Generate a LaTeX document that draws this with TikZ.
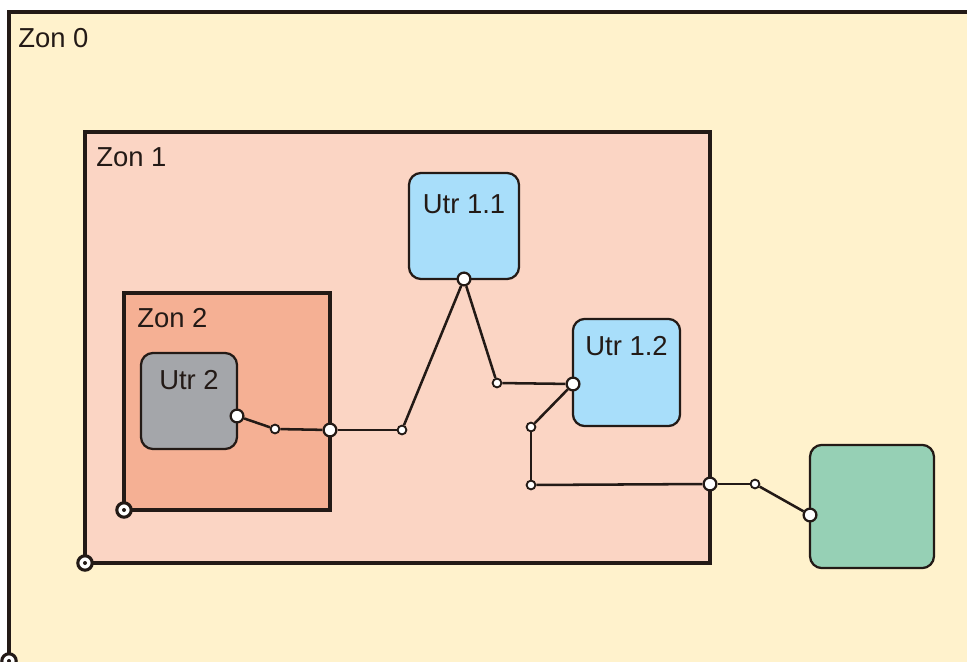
\documentclass[tikz,border=0pt]{standalone}
\usepackage{fontspec}
\setmainfont{Liberation Sans}
\usetikzlibrary{positioning}
\definecolor{zcol0}{RGB}{255,242,204}
\definecolor{zcol1}{RGB}{251,213,196}
\definecolor{zcol2}{RGB}{245,176,148}
\definecolor{ublue}{RGB}{168,222,250}
\definecolor{ugray}{RGB}{164,166,170}
\definecolor{ugreen}{RGB}{150,208,181}
\definecolor{ink}{RGB}{35,26,22}

\begin{document}
\begin{tikzpicture}[x=0.025cm,y=-0.025cm,
  font=\fontsize{19.5}{23}\selectfont,
  zone/.style={draw=ink,line width=2.2pt},
  zlabel/.style={anchor=base west,inner sep=0pt,text=ink},
  utr/.style={draw=ink,line width=1.6pt,rounded corners=0.3cm,inner sep=0pt},
  wire/.style={draw=ink,line width=1.8pt},
  term/.style={circle,draw=ink,fill=white,line width=1.6pt,minimum size=0.32cm,inner sep=0pt},
  sw/.style={circle,draw=ink,fill=white,line width=1.3pt,minimum size=0.22cm,inner sep=0pt},
  gnd/.style={circle,draw=ink,fill=white,line width=2.2pt,minimum size=0.36cm,inner sep=0pt,
              path picture={\fill[ink] (path picture bounding box.center) circle (0.05cm);}}
]
\useasboundingbox (0,0) rectangle (967,662);

\begin{scope}
  \clip (0,0) rectangle (967,662);
  \draw[zone,fill=zcol0] (9,12) rectangle (1000,664);
  \node[gnd] (g0) at (9,661) {};
\end{scope}
\node[zlabel] (z0) at (18,48) {Zon 0};

\draw[zone,fill=zcol1] (85,132) rectangle (710,563);
\node[zlabel] (z1) at (96,167) {Zon 1};
\draw[zone,fill=zcol2] (124,293) rectangle (330,510);
\node[zlabel] (z2) at (137,328) {Zon 2};

\node[utr,fill=ugray,minimum width=2.4cm,minimum height=2.4cm,
      label={[anchor=base,yshift=-0.93cm,text=ink]north:Utr 2}] (u2) at (189,401) {};
\node[utr,fill=ublue,minimum width=2.75cm,minimum height=2.65cm,
      label={[anchor=base,yshift=-1.05cm,text=ink]north:Utr 1.1}] (u11) at (464,226) {};
\node[utr,fill=ublue,minimum width=2.68cm,minimum height=2.68cm,
      label={[anchor=base,yshift=-0.95cm,text=ink]north:Utr 1.2}] (u12) at (626.5,372.5) {};
\node[utr,fill=ugreen,minimum width=3.1cm,minimum height=3.08cm] (u3) at (872,506.5) {};

\node[gnd] (g1) at (85,563) {};
\node[gnd] (g2) at (124,510) {};

\node[term] (t2)  at (237,416) {};
\node[sw]   (s1)  at (275,429) {};
\node[term] (j2)  at (330,430) {};
\node[sw]   (s2)  at (402,430) {};
\node[term] (t11) at (464,279) {};
\node[sw]   (s3)  at (497,383) {};
\node[term] (t12) at (573,384) {};
\node[sw]   (s4)  at (531,427) {};
\node[sw]   (s5)  at (531,485) {};
\node[term] (j1)  at (710,484) {};
\node[sw]   (s6)  at (755,484) {};
\node[term] (t3)  at (810,515) {};

\draw[wire] (t2)--(s1); \draw[wire] (s1)--(j2); \draw[wire] (j2)--(s2);
\draw[wire] (s2)--(t11); \draw[wire] (t11)--(s3); \draw[wire] (s3)--(t12);
\draw[wire] (t12)--(s4); \draw[wire] (s4)--(s5); \draw[wire] (s5)--(j1);
\draw[wire] (j1)--(s6); \draw[wire] (s6)--(t3);
\end{tikzpicture}
\end{document}
